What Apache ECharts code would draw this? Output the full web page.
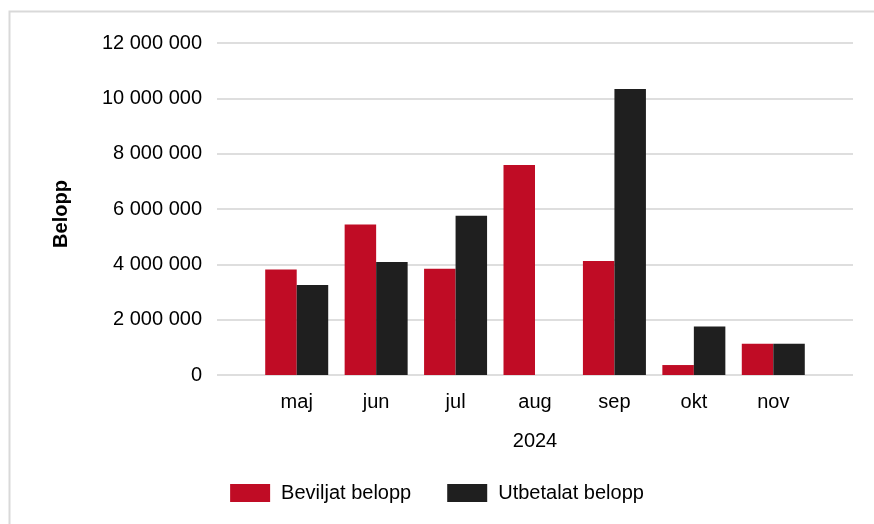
<!DOCTYPE html>
<html lang="sv">
<head>
    <meta charset="UTF-8">
    <title>Belopp 2024</title>
    <script src="https://cdn.jsdelivr.net/npm/echarts@6.0.0/dist/echarts.min.js"></script>
    <style>
        html, body { margin: 0; padding: 0; background: #fff; }
        #chart { width: 874px; height: 524px; }
    </style>
</head>
<body>
    <div id="chart"></div>

    <script>
        // data
        const months = ['maj', 'jun', 'jul', 'aug', 'sep', 'okt', 'nov'];
        const beviljat = [3810000, 5440000, 3840000, 7590000, 4120000, 360000, 1130000];
        const utbetalat = [3250000, 4080000, 5760000, 0, 10340000, 1750000, 1130000];
        const seriesNames = ['Beviljat belopp', 'Utbetalat belopp'];

        const chart = echarts.init(document.getElementById('chart'));
        const font = 'Liberation Sans, Arial, sans-serif';

        function fmt(v) {
            return String(v).replace(/\B(?=(\d{3})+(?!\d))/g, ' ');
        }

        const yScale = { type: 'value', min: 0, max: 12000000, interval: 2000000 };

        chart.setOption({
            animation: false,
            textStyle: { fontFamily: font },
            graphic: [{
                type: 'polyline',
                shape: { points: [[9.5, 524], [9.5, 11.5], [874, 11.5]] },
                style: { stroke: '#d9d9d9', lineWidth: 2, fill: null }
            }],
            legend: {
                bottom: 16,
                left: 'center',
                icon: 'rect',
                itemWidth: 40,
                itemHeight: 18,
                itemGap: 36,
                textStyle: { fontSize: 20, color: '#000', fontFamily: font, padding: [0, 0, 0, 6] },
                data: seriesNames
            },
            grid: [
                { left: 217, right: 21, top: 43, bottom: 149 },
                { left: 257, right: 61, top: 43, bottom: 149 }
            ],
            xAxis: [{
                gridIndex: 0, type: 'category', data: [''], show: false
            }, {
                gridIndex: 1,
                type: 'category',
                data: months,
                name: '2024',
                nameLocation: 'middle',
                nameGap: 56,
                nameTextStyle: { fontSize: 20, color: '#000' },
                axisLine: { show: false },
                axisTick: { show: false },
                axisLabel: { fontSize: 20, color: '#000', margin: 17 }
            }],
            yAxis: [Object.assign({
                gridIndex: 0,
                name: 'Belopp',
                nameLocation: 'middle',
                nameGap: 146,
                nameTextStyle: { fontSize: 20, fontWeight: 'bold', color: '#000', padding: [0, 10, 0, 0] },
                axisLine: { show: false },
                axisTick: { show: false },
                axisLabel: { fontSize: 20, color: '#000', margin: 15, formatter: fmt },
                splitLine: { lineStyle: { color: '#dedede', width: 2 } }
            }, yScale), Object.assign({
                gridIndex: 1,
                show: false,
                splitLine: { show: false }
            }, yScale)],
            series: [{
                name: seriesNames[0],
                type: 'bar',
                xAxisIndex: 1,
                yAxisIndex: 1,
                data: beviljat,
                barWidth: 31.5,
                barGap: '0%',
                itemStyle: { color: '#c00c25' }
            }, {
                name: seriesNames[1],
                type: 'bar',
                xAxisIndex: 1,
                yAxisIndex: 1,
                data: utbetalat,
                barWidth: 31.5,
                barGap: '0%',
                itemStyle: { color: '#1f1f1f' }
            }]
        });
    </script>
</body>
</html>
